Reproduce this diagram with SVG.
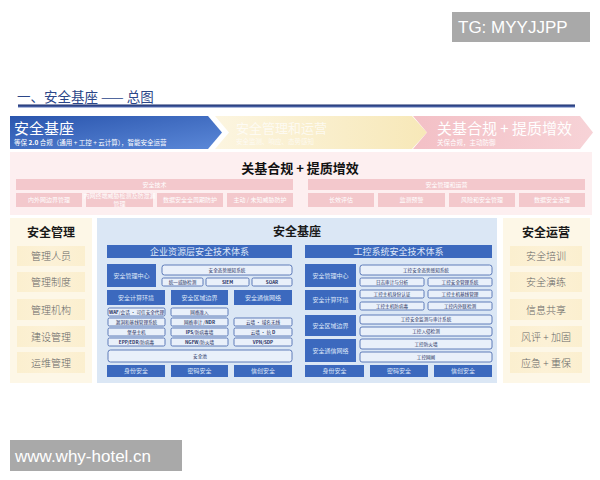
<svg xmlns="http://www.w3.org/2000/svg" width="600" height="480" viewBox="0 0 600 480">
<defs>
<linearGradient id="gBlue" x1="0" y1="0" x2="1" y2="1"><stop offset="0" stop-color="#2a55ad"/><stop offset="1" stop-color="#5b88d8"/></linearGradient>
<linearGradient id="gYel" x1="0" y1="0" x2="1" y2="0"><stop offset="0" stop-color="#fcf5e0"/><stop offset="1" stop-color="#f7e8b8"/></linearGradient>
<linearGradient id="gPink" x1="0" y1="0" x2="1" y2="0"><stop offset="0" stop-color="#f3c0c6"/><stop offset="1" stop-color="#f7d3d7"/></linearGradient>
<linearGradient id="gLine" x1="0" y1="0" x2="0" y2="1"><stop offset="0" stop-color="#15296a"/><stop offset="1" stop-color="#5a74b8"/></linearGradient>
<linearGradient id="gCream" x1="0" y1="0" x2="1" y2="0"><stop offset="0" stop-color="#fbefcf"/><stop offset="0.5" stop-color="#fcf1d6"/><stop offset="1" stop-color="#fbefcf"/></linearGradient>
</defs>
<style>
text{font-family:"Noto Sans CJK SC","Liberation Sans",sans-serif;}
.wm{fill:#a9a9a9;}
.wmt{fill:#ffffff;font-family:"Liberation Sans","DejaVu Sans",sans-serif;}
.pk{fill:#f3c8cc;}
.pkt{fill:#ffffff;font-size:6px;text-anchor:middle;}
.cr{fill:url(#gCream);}
.crt{fill:#666666;font-size:10px;font-weight:300;text-anchor:middle;}
.hd{fill:#1a1a1a;font-size:12px;font-weight:bold;text-anchor:middle;}
.bb{fill:#3c69be;}
.bbt{fill:#dfe7f8;font-size:6px;text-anchor:middle;}
.hbt{fill:#dfe7f8;font-size:9px;text-anchor:middle;}
.ob{fill:#e9f0fa;stroke:#3d5fa8;stroke-width:0.8;}
.obt{fill:#1e2f5e;font-size:4.6px;text-anchor:middle;}
.obb{fill:#1e2f5e;font-size:4.6px;font-weight:bold;text-anchor:middle;}
</style>
<rect width="600" height="480" fill="#ffffff"/>

<g id="watermark-top">
<rect class="wm" x="452" y="12" width="138" height="30"/>
<text class="wmt" x="458" y="33" font-size="17">TG: MYYJJPP</text>
</g>

<g id="title">
<text x="17" y="102" font-size="13.5" fill="#2b4688">一、安全基座 —— 总图</text>
<rect x="18" y="104.5" width="557" height="3" fill="url(#gLine)"/>
</g>

<g id="banners">
<g id="banner-1">
<path d="M10,116 L208,116 L222,132.5 L208,149 L10,149 Z" fill="url(#gBlue)"/>
<text x="14" y="134" font-size="15" fill="#ffffff">安全基座</text>
<text x="14" y="145" font-size="6.5" fill="#ffffff">等保 <tspan font-weight="bold">2.0</tspan> 合规（通用 + 工控 + 云计算），智能安全运营</text>
</g>
<g id="banner-2">
<path d="M215,116 L412,116 L427,132.5 L412,149 L215,149 L229,132.5 Z" fill="url(#gYel)"/>
<text x="236" y="133" font-size="13" fill="#ffffff" opacity="0.7">安全管理和运营</text>
<text x="236" y="144" font-size="6.5" fill="#ffffff" opacity="0.7">安全监测、响应、态势感知</text>
</g>
<g id="banner-3">
<path d="M413,116 L580,116 L593,132.5 L580,149 L413,149 L427,132.5 Z" fill="url(#gPink)"/>
<text x="437" y="134" font-size="15" fill="#ffffff">关基合规 + 提质增效</text>
<text x="437" y="145" font-size="6.5" fill="#ffffff">关保合规，主动防御</text>
</g>
</g>

<g id="compliance">
<rect x="10" y="152" width="582" height="63" fill="#fdeff0"/>
<text x="300" y="173" font-size="13" font-weight="bold" text-anchor="middle" fill="#111111">关基合规 + 提质增效</text>
<g id="tech">
<rect class="pk" x="16" y="179" width="277" height="11"/>
<text class="pkt" x="154.5" y="187" font-size="7">安全技术</text>
<rect class="pk" x="16" y="193" width="66" height="14"/>
<text class="pkt" x="49" y="202">内外网边界管理</text>
<rect class="pk" x="86" y="193" width="67" height="14"/>
<text class="pkt" x="119.5" y="198" font-size="4.2">内网终端威胁检测及防泄漏</text>
<text class="pkt" x="119.5" y="205.5" font-size="4.2">管理</text>
<rect class="pk" x="157" y="193" width="66" height="14"/>
<text class="pkt" x="190" y="202">数据安全全周期防护</text>
<rect class="pk" x="227" y="193" width="66" height="14"/>
<text class="pkt" x="260" y="202">主动 / 未知威胁防护</text>
</g>
<g id="mgmt">
<rect class="pk" x="308" y="179" width="277" height="11"/>
<text class="pkt" x="446.5" y="187" font-size="7">安全管理和运营</text>
<rect class="pk" x="308" y="193" width="66" height="14"/>
<text class="pkt" x="341" y="202">长效评估</text>
<rect class="pk" x="378" y="193" width="67" height="14"/>
<text class="pkt" x="411.5" y="202">监测预警</text>
<rect class="pk" x="449" y="193" width="66" height="14"/>
<text class="pkt" x="482" y="202">风险和安全管理</text>
<rect class="pk" x="519" y="193" width="66" height="14"/>
<text class="pkt" x="552" y="202">数据安全治理</text>
</g>
</g>

<g id="security-management">
<rect x="10" y="218" width="82" height="165" fill="#fdf7e7"/>
<text class="hd" x="51" y="237">安全管理</text>
<rect class="cr" x="17" y="246" width="68" height="20"/>
<text class="crt" x="51" y="260">管理人员</text>
<rect class="cr" x="17" y="272" width="68" height="20"/>
<text class="crt" x="51" y="286">管理制度</text>
<rect class="cr" x="17" y="299" width="68" height="21"/>
<text class="crt" x="51" y="314">管理机构</text>
<rect class="cr" x="17" y="326" width="68" height="21"/>
<text class="crt" x="51" y="341">建设管理</text>
<rect class="cr" x="17" y="352" width="68" height="21"/>
<text class="crt" x="51" y="367">运维管理</text>
</g>

<g id="security-operation">
<rect x="503" y="218" width="87" height="165" fill="#fdf7e7"/>
<text class="hd" x="546" y="237">安全运营</text>
<rect class="cr" x="510" y="246" width="72" height="20"/>
<text class="crt" x="546" y="260">安全培训</text>
<rect class="cr" x="510" y="272" width="72" height="20"/>
<text class="crt" x="546" y="286">安全演练</text>
<rect class="cr" x="510" y="299" width="72" height="21"/>
<text class="crt" x="546" y="314">信息共享</text>
<rect class="cr" x="510" y="326" width="72" height="21"/>
<text class="crt" x="546" y="341">风评 + 加固</text>
<rect class="cr" x="510" y="352" width="72" height="21"/>
<text class="crt" x="546" y="367">应急 + 重保</text>
</g>

<g id="security-base">
<rect x="97" y="218" width="400" height="165" fill="#dbe7f5"/>
<text class="hd" x="297" y="236">安全基座</text>

<g id="enterprise">
<rect class="bb" x="107" y="245" width="185" height="13"/>
<text class="hbt" x="199.5" y="255">企业资源层安全技术体系</text>
<rect class="bb" x="107" y="264" width="49" height="23"/>
<text class="bbt" x="131.5" y="277.5">安全管理中心</text>
<rect class="ob" x="162" y="265" width="130" height="10" rx="2.5"/>
<text class="obt" x="227" y="271.8">安全态势感知系统</text>
<rect class="ob" x="162" y="278" width="41" height="8" rx="1.5"/>
<text class="obt" x="182.5" y="283.6">统一威胁检测</text>
<rect class="ob" x="206" y="278" width="43" height="8" rx="1.5"/>
<text class="obb" x="227.5" y="283.6">SIEM</text>
<rect class="ob" x="252" y="278" width="40" height="8" rx="1.5"/>
<text class="obb" x="272" y="283.6">SOAR</text>
<rect class="bb" x="107" y="290" width="58" height="15"/>
<text class="bbt" x="136" y="299.5">安全计算环境</text>
<rect class="bb" x="171" y="290" width="57" height="15"/>
<text class="bbt" x="199.5" y="299.5">安全区域边界</text>
<rect class="bb" x="234" y="290" width="58" height="15"/>
<text class="bbt" x="263" y="299.5">安全通信网络</text>

<rect class="ob" x="108" y="308" width="57" height="8" rx="1.5"/>
<text class="obt" x="136.5" y="313.6"><tspan font-weight="bold">WAF</tspan>/会话 · 可信安全代理</text>
<rect class="ob" x="171" y="308" width="57" height="8" rx="1.5"/>
<text class="obt" x="199.5" y="313.6">网络准入</text>

<rect class="ob" x="108" y="318" width="57" height="8" rx="1.5"/>
<text class="obt" x="136.5" y="323.6">漏洞和基线管理系统</text>
<rect class="ob" x="171" y="318" width="57" height="8" rx="1.5"/>
<text class="obt" x="199.5" y="323.6">网络审计 /<tspan font-weight="bold">NDR</tspan></text>
<rect class="ob" x="234" y="318" width="58" height="8" rx="1.5"/>
<text class="obt" x="263" y="323.6">云墙 · 域名无线</text>

<rect class="ob" x="108" y="328" width="57" height="8" rx="1.5"/>
<text class="obt" x="136.5" y="333.6">堡垒主机</text>
<rect class="ob" x="171" y="328" width="57" height="8" rx="1.5"/>
<text class="obt" x="199.5" y="333.6"><tspan font-weight="bold">IPS</tspan>/防病毒墙</text>
<rect class="ob" x="234" y="328" width="58" height="8" rx="1.5"/>
<text class="obt" x="263" y="333.6">云墙 · 抗 <tspan font-weight="bold">D</tspan></text>

<rect class="ob" x="108" y="338" width="57" height="8" rx="1.5"/>
<text class="obt" x="136.5" y="343.6"><tspan font-weight="bold">EPP/EDR</tspan>/防病毒</text>
<rect class="ob" x="171" y="338" width="57" height="8" rx="1.5"/>
<text class="obt" x="199.5" y="343.6"><tspan font-weight="bold">NGFW</tspan>/防火墙</text>
<rect class="ob" x="234" y="338" width="58" height="8" rx="1.5"/>
<text class="obb" x="263" y="343.6">VPN/SDP</text>

<rect class="ob" x="108" y="350" width="184" height="12" rx="2.5"/>
<text class="obt" x="200" y="357.8">安全池</text>

<rect class="bb" x="107" y="365" width="58" height="12"/>
<text class="bbt" x="136" y="373.2">身份安全</text>
<rect class="bb" x="171" y="365" width="57" height="12"/>
<text class="bbt" x="199.5" y="373.2">密码安全</text>
<rect class="bb" x="234" y="365" width="58" height="12"/>
<text class="bbt" x="263" y="373.2">信创安全</text>
</g>

<g id="industrial">
<rect class="bb" x="305" y="245" width="187" height="13"/>
<text class="hbt" x="398.5" y="255">工控系统安全技术体系</text>
<rect class="bb" x="305" y="264" width="51" height="23"/>
<text class="bbt" x="330.5" y="277.5">安全管理中心</text>
<rect class="ob" x="360" y="265" width="132" height="10" rx="2.5"/>
<text class="obt" x="426" y="271.8">工控安全态势感知系统</text>
<rect class="ob" x="360" y="278" width="64" height="8" rx="1.5"/>
<text class="obt" x="392" y="283.6">日志审计与分析</text>
<rect class="ob" x="428" y="278" width="64" height="8" rx="1.5"/>
<text class="obt" x="460" y="283.6">工控安全管理系统</text>

<rect class="bb" x="305" y="290" width="51" height="20"/>
<text class="bbt" x="330.5" y="302">安全计算环境</text>
<rect class="ob" x="360" y="290" width="64" height="8" rx="1.5"/>
<text class="obt" x="392" y="295.6">工控主机身份认证</text>
<rect class="ob" x="428" y="290" width="64" height="8" rx="1.5"/>
<text class="obt" x="460" y="295.6">工控主机基线管理</text>
<rect class="ob" x="360" y="302" width="64" height="8" rx="1.5"/>
<text class="obt" x="392" y="307.6">工控主机防病毒</text>
<rect class="ob" x="428" y="302" width="64" height="8" rx="1.5"/>
<text class="obt" x="460" y="307.6">工控内外联检测</text>

<rect class="bb" x="305" y="315" width="51" height="21"/>
<text class="bbt" x="330.5" y="327.5">安全区域边界</text>
<rect class="ob" x="360" y="315" width="132" height="9" rx="2"/>
<text class="obt" x="426" y="321.2">工控安全监测与审计系统</text>
<rect class="ob" x="360" y="327" width="132" height="9" rx="2"/>
<text class="obt" x="426" y="333.2">工控入侵检测</text>

<rect class="bb" x="305" y="339" width="51" height="23"/>
<text class="bbt" x="330.5" y="352.5">安全通信网络</text>
<rect class="ob" x="360" y="339" width="132" height="10" rx="2"/>
<text class="obt" x="426" y="345.8">工控防火墙</text>
<rect class="ob" x="360" y="352" width="132" height="10" rx="2"/>
<text class="obt" x="426" y="358.8">工控网闸</text>

<rect class="bb" x="305" y="365" width="59" height="12"/>
<text class="bbt" x="334.5" y="373.2">身份安全</text>
<rect class="bb" x="370" y="365" width="58" height="12"/>
<text class="bbt" x="399" y="373.2">密码安全</text>
<rect class="bb" x="434" y="365" width="58" height="12"/>
<text class="bbt" x="463" y="373.2">信创安全</text>
</g>
</g>

<g id="connectors"></g>

<g id="watermark-bottom">
<rect class="wm" x="10" y="440" width="172" height="31"/>
<text class="wmt" x="15" y="462" font-size="17">www.why-hotel.cn</text>
</g>
</svg>
